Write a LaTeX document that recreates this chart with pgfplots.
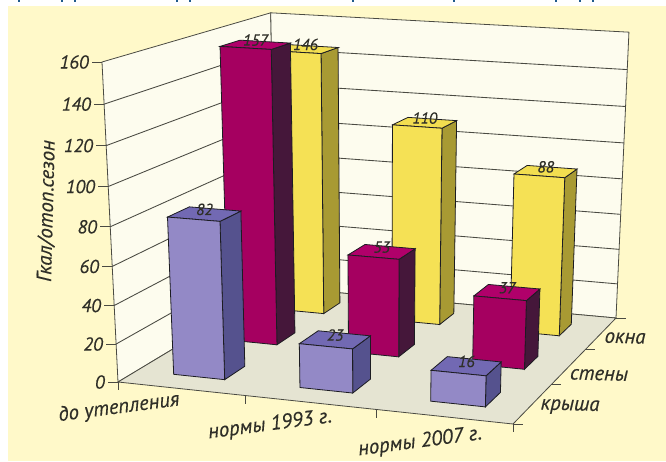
\documentclass[border=0pt]{standalone}
\usepackage{fontspec}
\setmainfont[ItalicFeatures={FakeBold=0.35}]{PT Sans}
\usepackage{pgfplots}
\pgfplotsset{compat=1.18}

\definecolor{pagecream}{HTML}{FFF9C9}
\definecolor{wallc}{HTML}{FDFCEE}
\definecolor{floorc}{HTML}{E5E4D2}
\definecolor{edgec}{HTML}{1C1C22}
\definecolor{gridc}{HTML}{4A4A42}
\definecolor{labelc}{HTML}{2F2F28}
\definecolor{headblue}{HTML}{1F5A8C}
\definecolor{roofF}{HTML}{9389C6}\definecolor{roofS}{HTML}{55528E}\definecolor{roofT}{HTML}{7269B3}
\definecolor{wallF}{HTML}{A50060}\definecolor{wallS}{HTML}{45173A}\definecolor{wallT}{HTML}{B0006A}
\definecolor{winF}{HTML}{F5E155}\definecolor{winS}{HTML}{A89A33}\definecolor{winT}{HTML}{F2DE50}

% Perspective projection of the unit chart box (u along categories, v in depth, t = value/160)
\pgfmathdeclarefunction{prx}{3}{\pgfmathparse{(368.39*#1+206.98*#2-21.92*#3+118)/(1-0.05187*#1+0.17748*#2-0.058*#3)}}
\pgfmathdeclarefunction{pry}{3}{\pgfmathparse{461-(20.01*#1-44.06*#2-323.6*#3+382)/(1-0.05187*#1+0.17748*#2-0.058*#3)}}

% One flat polygon of the box: rows hold u v t
\newcommand{\boxface}[2]{%
  \addplot[draw=gridc, line width=0.6pt, fill=#1] table[row sep=\\,
    x expr={prx(\thisrow{u},\thisrow{v},\thisrow{t})},
    y expr={pry(\thisrow{u},\thisrow{v},\thisrow{t})}] {#2} -- cycle;}

% A grid line at level #1 running along the left and back walls
\newcommand{\gridlevel}[1]{%
  \addplot[draw=gridc, line width=0.65pt] table[row sep=\\,
    x expr={prx(\thisrow{u},\thisrow{v},#1/160)},
    y expr={pry(\thisrow{u},\thisrow{v},#1/160)}] {u v\\0 0\\0 1\\1 1\\};}

% A short tick leaving the box at (u,v,t), offset (dx,dy) in pixels
\newcommand{\boxtick}[5]{%
  \addplot[draw=gridc, line width=0.65pt] table[row sep=\\,
    x expr={prx(#1,#2,#3)+(#4)*\thisrow{k}},
    y expr={pry(#1,#2,#3)+(#5)*\thisrow{k}}] {k\\0\\1\\};}

% One bar face; the rows hold corner signs (a,b) and height share c
\newcommand{\barface}[5]{%
  \addplot[draw=edgec, line width=0.6pt, fill=#4] table[row sep=\\,
    x expr={prx((#1+0.5)/3+0.068*\thisrow{a},(#2+0.5)/3+0.062*\thisrow{b},#3/160*\thisrow{c})},
    y expr={pry((#1+0.5)/3+0.068*\thisrow{a},(#2+0.5)/3+0.062*\thisrow{b},#3/160*\thisrow{c})}] {#5} -- cycle;}

% A bar: category, row, value, front / side / top colours
\newcommand{\drawbar}[6]{%
  \barface{#1}{#2}{#3}{#5}{a b c\\1 -1 0\\1 1 0\\1 1 1\\1 -1 1\\}
  \barface{#1}{#2}{#3}{#6}{a b c\\-1 -1 1\\1 -1 1\\1 1 1\\-1 1 1\\}
  \barface{#1}{#2}{#3}{#4}{a b c\\-1 -1 0\\1 -1 0\\1 -1 1\\-1 -1 1\\}
  \addplot[draw=none, nodes near coords={#3},
    every node near coord/.style={anchor=center, yshift=3.5pt, inner sep=0pt,
      text=labelc, font=\fontsize{12}{13}\selectfont\itshape}] table[row sep=\\,
    x expr={prx((#1+0.5)/3,(#2+0.5)/3,#3/160)},
    y expr={pry((#1+0.5)/3,(#2+0.5)/3,#3/160)}] {k\\0\\};}

\begin{document}
\begin{tikzpicture}
\begin{axis}[
  scale only axis, width=499.5pt, height=345.75pt,
  xmin=0, xmax=666, ymin=0, ymax=461,
  axis lines=none, clip=true,
]
  \fill[white] (axis cs:0,0) rectangle (axis cs:666,461);
  \fill[pagecream] (axis cs:8,0) rectangle (axis cs:666,455);
  % cut-off heading line along the top edge
  \pgfplotsinvokeforeach{19,62,75,177,190,353,454,556,580,593}{
    \draw[headblue, line width=1pt] (axis cs:#1,461) -- (axis cs:#1,459);}

  % walls and floor
  \boxface{wallc}{u v t\\0 0 0\\0 1 0\\0 1 1\\0 0 1\\}
  \boxface{wallc}{u v t\\0 1 0\\1 1 0\\1 1 1\\0 1 1\\}
  \boxface{floorc}{u v t\\0 0 0\\1 0 0\\1 1 0\\0 1 0\\}
  \pgfplotsinvokeforeach{20,40,60,80,100,120,140}{\gridlevel{#1}}

  % value axis ticks and their numbers
  \pgfplotsinvokeforeach{0,20,40,60,80,100,120,140,160}{\boxtick{0}{0}{#1/160}{-10}{0}}
  \addplot[draw=none, point meta=explicit symbolic, nodes near coords={\pgfplotspointmeta},
    every node near coord/.style={anchor=east, inner sep=0pt, text=labelc,
      font=\fontsize{14}{15}\selectfont\itshape}] table[row sep=\\, meta=z,
    x expr={prx(0,0,\thisrow{z}/160)-13},
    y expr={pry(0,0,\thisrow{z}/160)}] {z\\0\\20\\40\\60\\80\\100\\120\\140\\160\\};

  % category and depth ticks
  \pgfplotsinvokeforeach{0,0.3333,0.6667,1}{\boxtick{#1}{0}{0}{0}{-8}}
  \pgfplotsinvokeforeach{0,0.3333,0.6667,1}{\boxtick{1}{#1}{0}{10}{0}}

  % bars, back row first: category, row, value, front, side, top
  \drawbar{0}{2}{146}{winF}{winS}{winT}
  \drawbar{1}{2}{110}{winF}{winS}{winT}
  \drawbar{2}{2}{88}{winF}{winS}{winT}
  \drawbar{0}{1}{157}{wallF}{wallS}{wallT}
  \drawbar{1}{1}{53}{wallF}{wallS}{wallT}
  \drawbar{2}{1}{37}{wallF}{wallS}{wallT}
  \drawbar{0}{0}{82}{roofF}{roofS}{roofT}
  \drawbar{1}{0}{23}{roofF}{roofS}{roofT}
  \drawbar{2}{0}{16}{roofF}{roofS}{roofT}

  % axis names
  \begin{scope}[every node/.style={text=labelc, inner sep=0pt,
      font=\fontsize{15.5}{16}\selectfont\itshape}]
    \node[rotate=88.5] at (axis cs:47,250) {Гкал/отоп.сезон};
    \node[rotate=7.5] at (axis cs:119,53) {до утепления};
    \node[rotate=7.5] at (axis cs:270,36) {нормы 1993 г.};
    \node[rotate=7.5] at (axis cs:420,19) {нормы 2007 г.};
    \node[rotate=-1.5] at (axis cs:625,123) {окна};
    \node[rotate=-1.5] at (axis cs:599,86) {стены};
    \node[rotate=-1.5] at (axis cs:570,54) {крыша};
  \end{scope}
\end{axis}
\end{tikzpicture}
\end{document}
